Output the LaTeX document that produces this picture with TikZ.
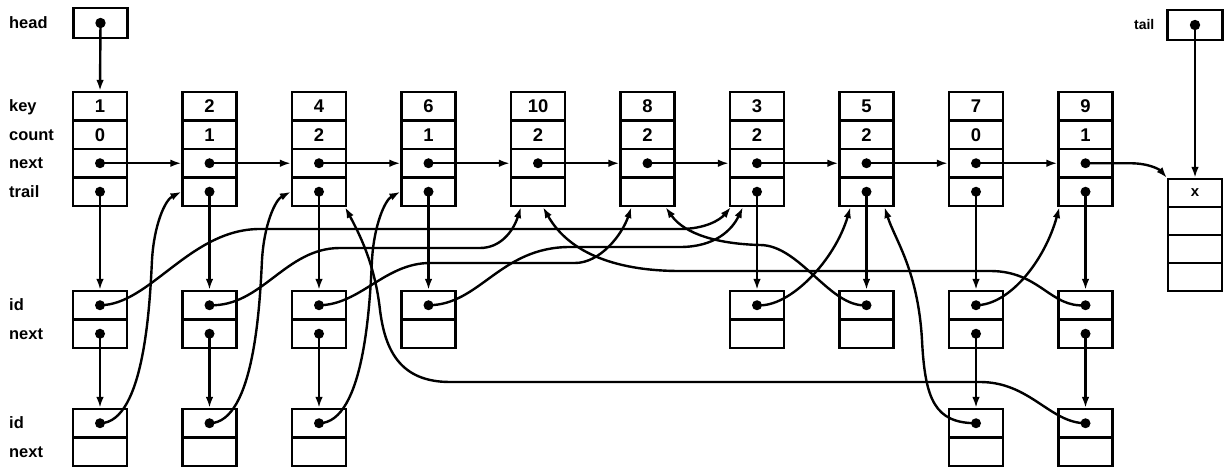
\documentclass[tikz,border=0pt]{standalone}
\usepackage{fontspec}
\setmainfont{Liberation Sans}
\usetikzlibrary{arrows.meta}
\begin{document}
\begin{tikzpicture}[x=1bp,y=-1bp,
  cell/.style={draw, line width=2.1bp, minimum width=54bp, minimum height=28.5bp, inner sep=0pt,
    font=\fontsize{18.5}{18.5}\selectfont\bfseries},
  lbl/.style={anchor=base west, inner sep=0pt, font=\fontsize{16.5}{17}\selectfont\bfseries},
  ptr/.style={line width=2.4bp, -{Latex[length=11bp,width=7.5bp]}}]
\useasboundingbox (0,0) rectangle (1228,468);

% labels
\node[lbl] (lhead) at (9,28.5) {head};
\node[lbl] (lkey) at (9,111.75) {key};
\node[lbl] (lcount) at (9,140.25) {count};
\node[lbl] (lnext) at (9,168.75) {next};
\node[lbl] (ltrail) at (9,197.25) {trail};
\node[lbl] (lid1) at (9,311) {id};
\node[lbl] (lnext1) at (9,339.5) {next};
\node[lbl] (lid2) at (9,429) {id};
\node[lbl] (lnext2) at (9,457.5) {next};
\node[lbl, font=\fontsize{14}{14}\selectfont\bfseries] (ltail) at (1134,30) {tail};

% head and tail
\node[cell, minimum height=30bp] (head) at (100.5,23) {};
\node[cell, minimum height=30bp, minimum width=55bp] (tail) at (1195,25) {};

% leaders
\foreach \i/\k/\c in {0/1/0, 1/2/1, 2/4/2, 3/6/1, 4/10/2, 5/8/2, 6/3/2, 7/5/2, 8/7/0, 9/9/1} {
  \node[cell] (k\i) at (100+109.5*\i,106.25) {\k};
  \node[cell] (c\i) at (100+109.5*\i,134.75) {\c};
  \node[cell] (n\i) at (100+109.5*\i,163.25) {};
  \node[cell] (t\i) at (100+109.5*\i,191.75) {};
}

% sentinel x
\node[cell, minimum height=28bp] (X0) at (1195,193) {\fontsize{15}{15}\selectfont x};
\node[cell, minimum height=28bp] (X1) at (1195,221) {};
\node[cell, minimum height=28bp] (X2) at (1195,249) {};
\node[cell, minimum height=28bp] (X3) at (1195,277) {};

% trailers row 1
\foreach \i in {0,1,2,3,6,7,8,9} {
  \node[cell] (a\i) at (100+109.5*\i,305.25) {};
  \node[cell] (an\i) at (100+109.5*\i,333.75) {};
}
% trailers row 2
\foreach \i in {0,1,2,8,9} {
  \node[cell] (b\i) at (100+109.5*\i,423.25) {};
  \node[cell] (bn\i) at (100+109.5*\i,451.75) {};
}

% dots
\fill (head.center) circle[radius=5.2bp];
\fill (tail.center) circle[radius=5.2bp];
\foreach \i in {0,...,9} \fill (n\i.center) circle[radius=5bp];
\foreach \i in {0,1,2,3,6,7,8,9} {
  \fill (t\i.center) circle[radius=5bp];
  \fill (a\i.center) circle[radius=5bp];
}
\foreach \i in {0,1,2,8,9} {
  \fill (an\i.center) circle[radius=5bp];
  \fill (b\i.center) circle[radius=5bp];
}

% head / tail pointers
\draw[ptr] (head.center) -- (k0.north);
\draw[ptr] (tail.center) -- (X0.north);

% next chain of leaders
\foreach \i/\j in {0/1,1/2,2/3,3/4,4/5,5/6,6/7,7/8,8/9}
  \draw[ptr] (n\i.center) -- (n\j.west);
\draw[ptr] (n9.center) -- (1130,163.25) .. controls (1150,163.25) and (1160,170) .. (X0.north west);

% trail pointers
\foreach \i in {0,1,2,3,6,7,8,9} \draw[ptr] (t\i.center) -- (a\i.north);
% next pointers of trailers
\foreach \i in {0,1,2,8,9} \draw[ptr] (an\i.center) -- (b\i.north);

% id pointers
% 1 -> 3
\draw[ptr] (a0.center) .. controls (150,305) and (190,229) .. (260,229) -- (680,229)
  .. controls (705,229) and (720,220) .. ([xshift=2bp]t6.south west);
% 1 -> 2
\draw[ptr] (b0.center) .. controls (145,423) and (150,300) .. (152,260)
  .. controls (154,225) and (165,200) .. (t1.west);
% 2 -> 10
\draw[ptr] (a1.center) .. controls (262,307) and (285,248) .. (340,248) -- (480,248)
  .. controls (500,248) and (513,232) .. ([xshift=11bp]t4.south west);
% 2 -> 4
\draw[ptr] (b1.center) .. controls (255,423) and (260,300) .. (262,260)
  .. controls (264,225) and (275,200) .. (t2.west);
% 4 -> 8
\draw[ptr] (a2.center) .. controls (360,305) and (385,263) .. (430,263) -- (575,263)
  .. controls (600,263) and (622,235) .. ([xshift=12bp]t5.south west);
% 4 -> 6
\draw[ptr] (b2.center) .. controls (365,423) and (370,300) .. (372,260)
  .. controls (374,225) and (385,200) .. (t3.west);
% 6 -> 3
\draw[ptr] (a3.center) .. controls (480,305) and (500,247) .. (570,247) -- (680,247)
  .. controls (715,247) and (732,230) .. ([xshift=14bp]t6.south west);
% 3 -> 5
\draw[ptr] (a6.center) .. controls (790,308) and (835,260) .. ([xshift=12bp]t7.south west);
% 5 -> 8
\draw[ptr] (a7.center) .. controls (830,308) and (800,245) .. (760,245)
  .. controls (720,244) and (685,235) .. ([xshift=-10bp]t5.south east);
% 7 -> 9
\draw[ptr] (a8.center) .. controls (1010,305) and (1045,260) .. ([xshift=2bp]t9.south west);
% 7 -> 5
\draw[ptr] (b8.center) .. controls (935,423) and (925,400) .. (922,340)
  .. controls (918,270) and (895,240) .. ([xshift=-10bp]t7.south east);
% 9 -> 10
\draw[ptr] (a9.center) .. controls (1050,308) and (1040,271) .. (990,271) -- (680,271)
  .. controls (620,271) and (570,255) .. ([xshift=5bp]t4.south);
% 9 -> 4
\draw[ptr] (b9.center) .. controls (1050,423) and (1030,382) .. (980,382) -- (450,382)
  .. controls (400,382) and (385,350) .. (380,310)
  .. controls (375,265) and (360,235) .. ([xshift=-2bp]t2.south east);
\end{tikzpicture}
\end{document}
